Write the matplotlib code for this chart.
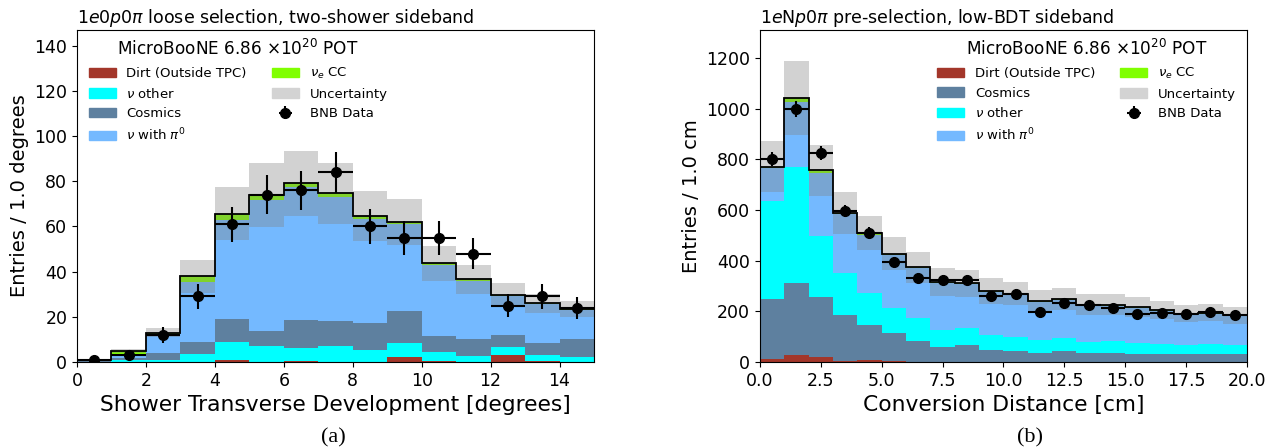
import numpy as np
import matplotlib.pyplot as plt
from matplotlib.patches import Patch

# ---- panel (a): shower transverse development, 1 degree bins
edges_a = np.arange(0, 16, 1.0)
dirt_a = [0, 0, 0, 0, 0.9, 0, 0.4, 0, 0, 2.2, 0.6, 0, 3.1, 0.4, 0]
nuother_a = [0.1, 0.8, 1.0, 3.7, 8.1, 7.1, 5.8, 7.1, 5.3, 6.4, 4.0, 2.8, 3.6, 2.7, 2.2]
cosmics_a = [0.4, 0.8, 3.1, 5.3, 10.1, 6.7, 12.5, 11.1, 12.0, 14.1, 7.0, 7.4, 5.3, 5.3, 8.0]
pi0_a = [0.4, 1.6, 7.2, 26.3, 43.6, 57.9, 58.8, 55.0, 46.1, 38.4, 31.5, 25.8, 17.0, 17.4, 12.8]
nuecc_a = [0.1, 1.7, 1.7, 2.6, 2.9, 2.2, 1.6, 1.5, 1.2, 1.0, 0.6, 0.6, 0.6, 0.3, 0.6]
err_a = [0.5, 0.8, 2.0, 7.2, 11.7, 14.1, 14.5, 13.6, 11.0, 10.2, 7.8, 6.3, 5.2, 4.2, 3.6]
data_a = [1, 3, 12, 29, 61, 74, 76, 84, 60, 55, 55, 48, 25, 29, 24]

# ---- panel (b): conversion distance, 1 cm bins
edges_b = np.arange(0, 21, 1.0)
dirt_b = [10, 28, 18, 3, 7, 3, 1, 1, 1, 1, 1, 1, 1, 1, 1, 1, 1, 1, 1, 1]
cosmics_b = [238, 282, 237, 181, 138, 110, 80, 57, 66, 45, 41, 35, 42, 35, 36, 32, 31, 29, 29, 29]
nuother_b = [389, 461, 244, 166, 126, 100, 92, 69, 67, 59, 57, 52, 53, 43, 45, 43, 40, 36, 42, 36]
pi0_b = [129, 254, 247, 235, 232, 211, 197, 183, 172, 171, 167, 147, 147, 143, 140, 137, 128, 121, 119, 115]
nuecc_b = [5, 17, 10, 4, 6, 4, 4, 4, 4, 4, 4, 4, 4, 4, 4, 4, 4, 4, 4, 3]
err_b = [101, 146, 101, 83, 68, 66, 61, 55, 53, 50, 46, 44, 43, 41, 41, 38, 36, 35, 34, 34]
data_b = [800, 1000, 825, 595, 510, 395, 332, 325, 325, 260, 270, 196, 232, 224, 212, 188, 192, 188, 196, 184]

c_dirt = '#a3362a'
c_other = '#00ffff'
c_cosmic = '#5e809f'
c_pi0 = '#74b9ff'
c_nue = '#80ff00'

pot_title = r'MicroBooNE 6.86 $\times 10^{20}$ POT'


def draw(ax, edges, layers, err, data):
    widths = np.diff(edges)
    bottom = np.zeros(len(widths))
    for vals, col in layers:
        vals = np.array(vals, dtype=float)
        ax.bar(edges[:-1], vals, width=widths, bottom=bottom, color=col,
               align='edge', linewidth=0)
        bottom = bottom + vals
    err = np.array(err, dtype=float)
    ax.bar(edges[:-1], 2 * err, width=widths, bottom=bottom - err, color='gray',
           alpha=0.35, align='edge', linewidth=0)
    ax.stairs(bottom, edges, color='k', linewidth=1.3, baseline=None)
    data = np.array(data, dtype=float)
    centers = 0.5 * (edges[1:] + edges[:-1])
    eb = ax.errorbar(centers, data, xerr=widths / 2, yerr=np.sqrt(data), fmt='o',
                     color='k', ms=7, elinewidth=1.5, capsize=0, zorder=5)
    return eb


def legend(ax, handles, eb, loc, anchor):
    items = handles + [eb]
    labels = [h.get_label() for h in handles] + ['BNB Data']
    ax.legend(items, labels, ncol=2, loc=loc, frameon=False, fontsize=9.5,
              title=pot_title, title_fontsize=12.2, handlelength=2.05,
              columnspacing=1.9, bbox_to_anchor=anchor)


plt.rcParams['font.family'] = ['DejaVu Sans']
fig = plt.figure(figsize=(12.75, 4.48), dpi=100)
ax1 = fig.add_axes([0.0604, 0.192, 0.4055, 0.741])
ax2 = fig.add_axes([0.596, 0.192, 0.382, 0.741])

eb1 = draw(ax1, edges_a, [(dirt_a, c_dirt), (nuother_a, c_other), (cosmics_a, c_cosmic),
                          (pi0_a, c_pi0), (nuecc_a, c_nue)], err_a, data_a)
ax1.set_xlim(0, 15)
ax1.set_ylim(0, 147)
ax1.set_yticks(np.arange(0, 141, 20))
ax1.set_xlabel('Shower Transverse Development [degrees]', fontsize=15.7)
ax1.set_ylabel('Entries / 1.0 degrees', fontsize=14)
ax1.set_title(r'1$e$0$p$0$\pi$ loose selection, two-shower sideband', loc='left',
              fontsize=12.5, pad=5)
legend(ax1, [Patch(color=c_dirt, label='Dirt (Outside TPC)'),
             Patch(color=c_other, label=r'$\nu$ other'),
             Patch(color=c_cosmic, label='Cosmics'),
             Patch(color=c_pi0, label=r'$\nu$ with $\pi^0$'),
             Patch(color=c_nue, label=r'$\nu_e$ CC'),
             Patch(color='#d3d3d3', label='Uncertainty')],
       eb1, 'upper left', (0.0, 1.008))

eb2 = draw(ax2, edges_b, [(dirt_b, c_dirt), (cosmics_b, c_cosmic), (nuother_b, c_other),
                          (pi0_b, c_pi0), (nuecc_b, c_nue)], err_b, data_b)
ax2.set_xlim(0, 20)
ax2.set_ylim(0, 1310)
ax2.set_yticks(np.arange(0, 1201, 200))
ax2.set_xticks(np.arange(0, 20.1, 2.5))
ax2.set_xlabel('Conversion Distance [cm]', fontsize=15.7)
ax2.set_ylabel('Entries / 1.0 cm', fontsize=14)
ax2.set_title(r'1$e$N$p$0$\pi$ pre-selection, low-BDT sideband', loc='left',
              fontsize=12.5, pad=5)
legend(ax2, [Patch(color=c_dirt, label='Dirt (Outside TPC)'),
             Patch(color=c_cosmic, label='Cosmics'),
             Patch(color=c_other, label=r'$\nu$ other'),
             Patch(color=c_pi0, label=r'$\nu$ with $\pi^0$'),
             Patch(color=c_nue, label=r'$\nu_e$ CC'),
             Patch(color='#d3d3d3', label='Uncertainty')],
       eb2, 'upper right', (1.002, 1.008))

for ax in (ax1, ax2):
    ax.tick_params(labelsize=12.5)

fig.text(0.2615, 0.012, '(a)', ha='center', fontsize=16, family='Liberation Serif')
fig.text(0.808, 0.012, '(b)', ha='center', fontsize=16, family='Liberation Serif')

fig.savefig('out.png', dpi=100)
